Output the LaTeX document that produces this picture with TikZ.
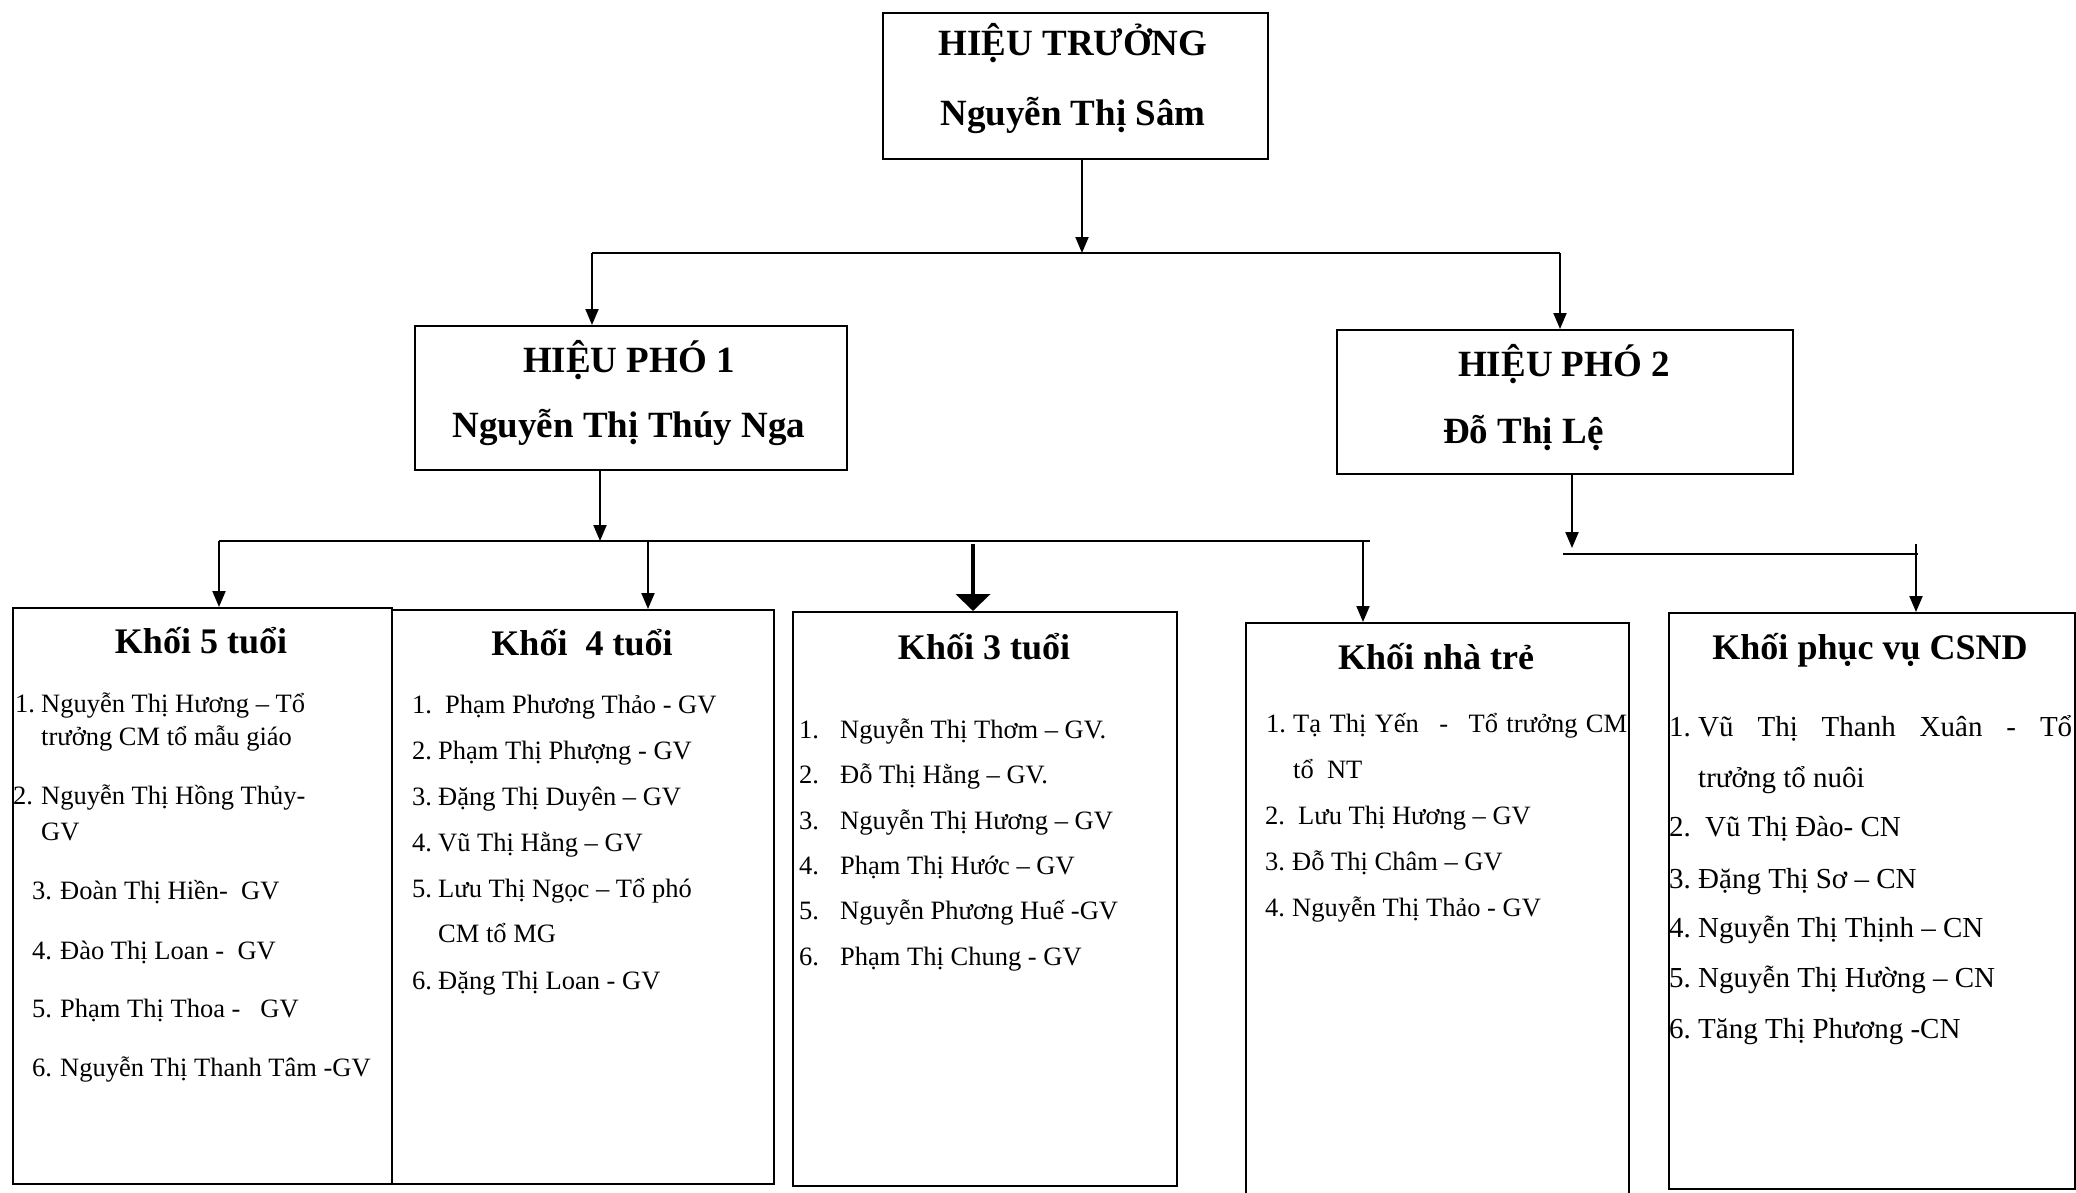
\documentclass[tikz,border=0pt]{standalone}
\usepackage{fontspec}
\setmainfont{Liberation Serif}
\usetikzlibrary{arrows.meta}
\begin{document}
\begin{tikzpicture}[x=1pt,y=-1pt,
  box/.style={draw, line width=2pt, inner sep=0pt, anchor=north west},
  ln/.style={line width=2pt},
  arr/.style={line width=2pt, -{Triangle[width=13pt,length=16pt]}},
  bigarr/.style={line width=4.5pt, -{Triangle[width=34pt,length=17pt]}},
  ttl/.style={anchor=base, inner sep=0pt, font=\fontsize{37}{40}\selectfont\bfseries},
  hd/.style={anchor=base, inner sep=0pt, font=\fontsize{36}{40}\selectfont\bfseries},
  lst/.style={anchor=base west, inner sep=0pt, font=\fontsize{26.5}{30}\selectfont},
  lstb/.style={anchor=base west, inner sep=0pt, font=\fontsize{29}{32}\selectfont},
]
\useasboundingbox (0,0) rectangle (2076,1192);
\clip (0,0) rectangle (2076,1192);

% ---- boxes ----
\node[box, minimum width=385pt, minimum height=146pt] (ht) at (882,12) {};
\node[box, minimum width=432pt, minimum height=144pt] (hp1) at (414,325) {};
\node[box, minimum width=456pt, minimum height=144pt] (hp2) at (1336,329) {};
\node[box, minimum width=379pt, minimum height=576pt] (k5) at (12,607) {};
\node[box, minimum width=382pt, minimum height=574pt] (k4) at (391,609) {};
\node[box, minimum width=384pt, minimum height=574pt] (k3) at (792,611) {};
\node[box, minimum width=383pt, minimum height=640pt] (nt) at (1245,622) {};
\node[box, minimum width=406pt, minimum height=576pt] (cs) at (1668,612) {};

% ---- titles ----
\node[ttl] (htA) at (1073,55) {HIỆU TRƯỞNG};
\node[ttl] (htB) at (1073,125) {Nguyễn Thị Sâm};
\node[ttl] (hp1A) at (629,372) {HIỆU PHÓ 1};
\node[ttl] (hp1B) at (629,437) {Nguyễn Thị Thúy Nga};
\node[ttl] (hp2A) at (1564,376) {HIỆU PHÓ 2};
\node[ttl, anchor=base west] (hp2B) at (1443,443) {Đỗ Thị Lệ};

% ---- connectors ----
\coordinate (busA) at (1082,253);
\coordinate (busL) at (592,253);
\coordinate (busR) at (1560,253);
\draw[arr] (busA |- ht.south) -- (busA);
\draw[ln] (busL) -- (busR);
\draw[arr] (busL) -- (busL |- hp1.north);
\draw[arr] (busR) -- (busR |- hp2.north);

\coordinate (busM) at (600,541);
\coordinate (m5) at (219,541);
\coordinate (m4) at (648,541);
\coordinate (m3) at (973,544);
\coordinate (mn) at (1363,541);
\coordinate (mE) at (1370,541);
\draw[arr] (busM |- hp1.south) -- (busM);
\draw[ln] (m5) -- (mE);
\draw[arr] (m5) -- (m5 |- k5.north);
\draw[arr] (m4) -- (m4 |- k4.north);
\draw[bigarr] (m3) -- (m3 |- k3.north);
\draw[arr] (mn) -- (mn |- nt.north);

\coordinate (r0) at (1572,548);
\coordinate (rL) at (1563,554);
\coordinate (rR) at (1918,554);
\coordinate (rC) at (1916,544);
\draw[arr] (r0 |- hp2.south) -- (r0);
\draw[ln] (rL) -- (rR);
\draw[arr] (rC) -- (rC |- cs.north);

% ---- block headings ----
\node[hd] (k5h) at (201,653) {Khối 5 tuổi};
\node[hd] (k4h) at (582,655) {Khối~~4 tuổi};
\node[hd] (k3h) at (984,659) {Khối 3 tuổi};
\node[hd] (nth) at (1436,669) {Khối nhà trẻ};
\node[hd] (csh) at (1870,659) {Khối phục vụ CSND};

% ---- Khoi 5 ----
\node[lst] (k5a) at (15,712) {\makebox[26pt][l]{1.}Nguyễn Thị Hương – Tổ};
\node[lst] (k5b) at (41,745) {trưởng CM tổ mẫu giáo};
\node[lst] (k5c) at (13,804) {\makebox[28pt][l]{2.}Nguyễn Thị Hồng Thủy-};
\node[lst] (k5d) at (41,840) {GV};
\node[lst] (k5e) at (32,899) {\makebox[28pt][l]{3.}Đoàn Thị Hiền-~ GV};
\node[lst] (k5f) at (32,959) {\makebox[28pt][l]{4.}Đào Thị Loan -~ GV};
\node[lst] (k5g) at (32,1017) {\makebox[28pt][l]{5.}Phạm Thị Thoa -~~ GV};
\node[lst] (k5i) at (32,1076) {\makebox[28pt][l]{6.}Nguyễn Thị Thanh Tâm -GV};

% ---- Khoi 4 ----
\node[lst] (k4a) at (412,713) {\makebox[33pt][l]{1.}Phạm Phương Thảo - GV};
\node[lst] (k4b) at (412,759) {\makebox[26pt][l]{2.}Phạm Thị Phượng - GV};
\node[lst] (k4c) at (412,805) {\makebox[26pt][l]{3.}Đặng Thị Duyên – GV};
\node[lst] (k4d) at (412,851) {\makebox[26pt][l]{4.}Vũ Thị Hằng – GV};
\node[lst] (k4e) at (412,897) {\makebox[26pt][l]{5.}Lưu Thị Ngọc – Tổ phó};
\node[lst] (k4f) at (438,942) {CM tổ MG};
\node[lst] (k4g) at (412,989) {\makebox[26pt][l]{6.}Đặng Thị Loan - GV};

% ---- Khoi 3 ----
\node[lst] (k3a) at (799,738) {\makebox[41pt][l]{1.}Nguyễn Thị Thơm – GV.};
\node[lst] (k3b) at (799,783) {\makebox[41pt][l]{2.}Đỗ Thị Hằng – GV.};
\node[lst] (k3c) at (799,829) {\makebox[41pt][l]{3.}Nguyễn Thị Hương – GV};
\node[lst] (k3d) at (799,874) {\makebox[41pt][l]{4.}Phạm Thị Hước – GV};
\node[lst] (k3e) at (799,919) {\makebox[41pt][l]{5.}Nguyễn Phương Huế -GV};
\node[lst] (k3f) at (799,965) {\makebox[41pt][l]{6.}Phạm Thị Chung - GV};

% ---- Khoi nha tre ----
\node[lst] (nta) at (1266,732) {\makebox[27pt][l]{1.}\makebox[334pt][s]{Tạ Thị Yến\hspace{12pt} - \hspace{12pt}Tổ trưởng CM}};
\node[lst] (ntb) at (1293,778) {tổ~ NT};
\node[lst] (ntc) at (1265,824) {\makebox[33pt][l]{2.}Lưu Thị Hương – GV};
\node[lst] (ntd) at (1265,870) {\makebox[27pt][l]{3.}Đỗ Thị Châm – GV};
\node[lst] (nte) at (1265,916) {\makebox[27pt][l]{4.}Nguyễn Thị Thảo - GV};

% ---- Khoi phuc vu ----
\node[lstb] (csa) at (1669,736) {\makebox[29pt][l]{1.}\makebox[374pt][s]{Vũ Thị Thanh Xuân - Tổ}};
\node[lstb] (csb) at (1698,787) {trưởng tổ nuôi};
\node[lstb] (csc) at (1669,836) {\makebox[36pt][l]{2.}Vũ Thị Đào- CN};
\node[lstb] (csd) at (1669,888) {\makebox[29pt][l]{3.}Đặng Thị Sơ – CN};
\node[lstb] (cse) at (1669,937) {\makebox[29pt][l]{4.}Nguyễn Thị Thịnh – CN};
\node[lstb] (csf) at (1669,987) {\makebox[29pt][l]{5.}Nguyễn Thị Hường – CN};
\node[lstb] (csg) at (1669,1038) {\makebox[29pt][l]{6.}Tăng Thị Phương -CN};
\end{tikzpicture}
\end{document}
